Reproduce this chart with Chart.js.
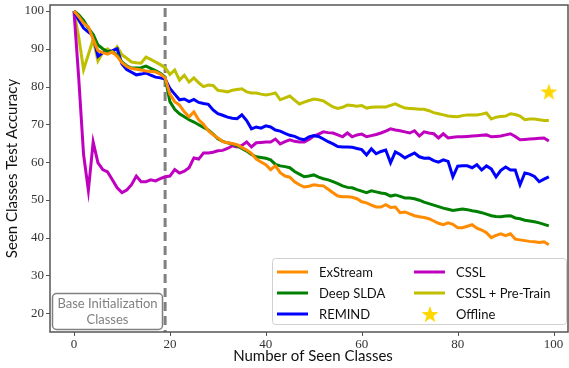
<!DOCTYPE html>
<html>
<head>
<meta charset="utf-8">
<script src="https://cdn.jsdelivr.net/npm/chart.js@4.4.1/dist/chart.umd.min.js"></script>
<style>
  html, body { margin: 0; padding: 0; background: #fff; }
  #wrap { width: 569px; height: 368px; }
</style>
</head>
<body>
<div id="wrap"><canvas id="accChart" width="569" height="368"></canvas></div>
<script>
// number of seen classes (x)
const classes = Array.from({length: 100}, (_, i) => i);

const exstream = [100, 98.5, 96.8, 95.8, 92.5, 89.5, 89, 88.6, 89.2, 88, 86.3, 85.3, 84.8, 84.6, 84.4, 84.1, 84, 83.9, 83.3, 82.3,
  78, 76, 75.1, 73.3, 72, 73.3, 71.2, 70, 68.3, 67.2, 66.4, 65.4, 65.1, 64.9, 64.6, 63.9, 63.2, 62.3, 60.8, 60,
  59.3, 58, 59, 57.2, 56.3, 56, 54.8, 54, 53.4, 53.6, 54, 53.8, 53.7, 52.8, 51.9, 51, 50.8, 50.8, 50.7, 50.3,
  49.5, 49.2, 48.6, 48.1, 48.1, 48.7, 48, 48.1, 46.6, 46.8, 46.3, 45.8, 45.5, 45.3, 45, 44.4, 43.8, 43.4, 43.9, 43.5,
  42.6, 42.6, 43, 43.4, 42.5, 42, 41.3, 40, 40.6, 41, 40.5, 41, 39.6, 39.4, 39.2, 39, 38.9, 38.7, 38.9, 38.1];

const deepSlda = [100, 99, 97.5, 95.5, 93.8, 91, 90, 89.3, 89.2, 88.4, 86.5, 85.5, 84.9, 84.9, 85, 85.4, 84.8, 84.2, 83.5, 82.5,
  76, 74, 72.8, 72, 71.2, 70.6, 69.9, 69.2, 68.5, 67.4, 66.2, 65.5, 65.1, 64.8, 64.3, 63.6, 62.9, 62, 61.4, 61.2,
  61, 60.6, 59.4, 59, 58.8, 58.5, 57.5, 56.8, 56.1, 56.3, 56.6, 56, 55.6, 55.3, 54.8, 54.3, 53.7, 53.3, 53.2, 52.7,
  52.3, 51.9, 52.4, 52.1, 51.8, 51.6, 51, 51.3, 50.9, 50.5, 50.5, 50.3, 49.9, 49.4, 49, 48.6, 48.2, 47.8, 47.5, 47.2,
  47.4, 47.6, 47.4, 47.1, 46.9, 46.6, 46.2, 45.8, 45.6, 45.5, 45.7, 45.8, 45.2, 45, 44.6, 44.4, 44.2, 43.9, 43.5, 43.1];

const remind = [100, 97.6, 95.5, 94.4, 93.5, 88, 89, 89.2, 89.5, 90, 86, 84.5, 83.8, 83.1, 83.3, 83.6, 83, 82.5, 82.3, 82,
  79.5, 78, 76.5, 76.7, 76, 76.6, 75.8, 75.5, 75.3, 73.8, 72.8, 72.4, 71.9, 71.6, 71.5, 72.5, 71, 68.8, 69.3, 69,
  69.6, 69.3, 68.5, 68.2, 67.6, 67.1, 66.8, 66.2, 65.9, 66.7, 67, 66.8, 66.1, 65.4, 64.8, 64.1, 64, 64, 63.9, 63.6,
  63.3, 61.9, 63.5, 62.2, 62.8, 63.2, 59.8, 62.7, 62, 61.1, 61.8, 62.4, 61.4, 61, 61.1, 60.4, 60, 60.6, 60.2, 56.1,
  58.9, 59, 59, 58.5, 59.3, 57.9, 59, 58.2, 56.1, 57.8, 58.7, 57.9, 57.9, 54, 57.1, 56.8, 56.2, 54.8, 55.5, 56.1];

const cssl = [100, 82, 62, 52.5, 65.3, 59.8, 58, 57.4, 55.3, 53.2, 51.9, 52.6, 54, 56.3, 54.8, 54.8, 55.3, 55, 55.6, 56.1,
  56.3, 58, 57.1, 57.6, 58.5, 61.1, 60.8, 62.4, 62.4, 62.6, 63, 63.1, 63.6, 64.3, 64, 64.4, 65.3, 64, 65.1, 65.2,
  65.3, 65.3, 66.1, 64.8, 65.4, 65.9, 65.5, 65.3, 65.3, 66, 66.9, 67.4, 68, 67.8, 67.7, 67.2, 66.7, 67.7, 66.7, 67.2,
  67.4, 66.7, 67, 67.3, 67.7, 68.2, 68.8, 68.5, 68.3, 68, 67.7, 68.3, 66.9, 68, 67.7, 67.5, 66.4, 67.5, 66.4, 66.6,
  66.7, 66.7, 66.8, 66.9, 67, 67.1, 67.2, 66.7, 66.8, 66.9, 67.2, 67.5, 66.8, 65.9, 66, 66.1, 66.2, 66.3, 66.4, 65.6];

const csslPretrain = [100, 93, 84.5, 88.5, 92.5, 86.8, 89, 90, 89, 90.5, 88.4, 87.5, 86.5, 86.3, 86.2, 87.8, 87.2, 86.5, 85.8, 85,
  83.2, 84.4, 81.7, 83, 81.2, 82.3, 81, 80, 80.4, 80.3, 79, 78.8, 78.6, 79, 79.2, 79.4, 78.6, 78.3, 78.3, 78,
  77.8, 78, 78.3, 76.5, 77, 77.5, 76.4, 75.4, 75.9, 76.3, 76.7, 76.5, 76.2, 75.4, 74.6, 74.2, 74.5, 75.1, 75, 74.8,
  75, 74.3, 74.5, 74.6, 74.6, 74.6, 75, 75.4, 74.8, 74.3, 74.2, 74.1, 74, 74, 73.6, 73.1, 72.8, 72.5, 72.2, 72.1,
  72, 72.3, 72.5, 72.5, 72.5, 72.7, 73, 71.4, 71.9, 72.1, 72.2, 72.8, 72.6, 72.2, 71.2, 71.4, 71.4, 71.2, 71, 71];

const offlineX = [99];
const offlineY = [78.7];

const baseClasses = 19;
const yTicks = [20, 30, 40, 50, 60, 70, 80, 90, 100];
const xTicks = [0, 20, 40, 60, 80, 100];

const serif = "'Liberation Serif', 'DejaVu Serif', serif";
const sans = "Lato, 'Noto Sans', sans-serif";

// filled star for the offline point
function starPath(g, cx, cy, r) {
  g.beginPath();
  for (let i = 0; i < 10; i++) {
    const rad = i % 2 === 0 ? r : r * 0.4;
    const a = -Math.PI / 2 + i * Math.PI / 5;
    const px = cx + rad * Math.cos(a), py = cy + rad * Math.sin(a);
    if (i === 0) g.moveTo(px, py); else g.lineTo(px, py);
  }
  g.closePath();
}
function makeStar(r, color) {
  const c = document.createElement('canvas');
  c.width = c.height = Math.ceil(r * 2 + 2);
  const g = c.getContext('2d');
  starPath(g, c.width / 2, c.height / 2 + r * 0.1, r);
  g.fillStyle = color;
  g.fill();
  return c;
}
const starImg = makeStar(9, '#ffd700');

function pts(vals) {
  return classes.map((c, i) => ({x: c, y: vals[i]}));
}

function lineSet(label, vals, color) {
  return {
    label: label, data: pts(vals), borderColor: color, backgroundColor: color,
    borderWidth: 3, pointRadius: 0, tension: 0, fill: false
  };
}

const datasets = [
  lineSet('ExStream', exstream, '#ff8c00'),
  lineSet('Deep SLDA', deepSlda, '#008000'),
  lineSet('REMIND', remind, '#0000ff'),
  lineSet('CSSL', cssl, '#bf00bf'),
  lineSet('CSSL + Pre-Train', csslPretrain, '#bfbf00'),
  {
    label: 'Offline', data: offlineX.map((x, i) => ({x: x, y: offlineY[i]})),
    showLine: false, pointStyle: starImg, pointRadius: 9, borderColor: '#ffd700', backgroundColor: '#ffd700'
  }
];

// dashed base-init line, axes, titles, note box and legend
const extras = {
  id: 'extras',
  beforeDatasetsDraw(chart) {
    const ctx = chart.ctx, a = chart.chartArea;
    const xs = chart.scales.x.getPixelForValue(baseClasses);
    ctx.save();
    ctx.strokeStyle = '#808080';
    ctx.lineWidth = 3;
    ctx.setLineDash([9, 5]);
    ctx.beginPath();
    ctx.moveTo(xs, a.top + 3);
    ctx.lineTo(xs, a.bottom);
    ctx.stroke();
    ctx.restore();
  },
  afterDraw(chart) {
    const ctx = chart.ctx, a = chart.chartArea;
    const sx = chart.scales.x, sy = chart.scales.y;
    ctx.save();
    // frame + tick marks
    ctx.strokeStyle = '#555';
    ctx.lineWidth = 1.5;
    ctx.strokeRect(a.left, a.top, a.right - a.left, a.bottom - a.top);
    ctx.lineWidth = 1;
    ctx.beginPath();
    yTicks.forEach(v => {
      const y = Math.round(sy.getPixelForValue(v)) + 0.5;
      ctx.moveTo(a.left - 4, y); ctx.lineTo(a.left, y);
    });
    xTicks.forEach(v => {
      const x = Math.round(sx.getPixelForValue(v)) + 0.5;
      ctx.moveTo(x, a.bottom); ctx.lineTo(x, a.bottom + 4);
    });
    ctx.stroke();

    // tick labels
    ctx.fillStyle = '#333';
    ctx.font = '13px ' + serif;
    ctx.textAlign = 'right';
    ctx.textBaseline = 'middle';
    yTicks.forEach(v => ctx.fillText(String(v), a.left - 6, sy.getPixelForValue(v)));
    ctx.textAlign = 'center';
    ctx.textBaseline = 'top';
    xTicks.forEach(v => ctx.fillText(String(v), sx.getPixelForValue(v), a.bottom + 6));

    // axis titles
    ctx.fillStyle = '#111';
    ctx.font = '15px ' + sans;
    ctx.textBaseline = 'middle';
    ctx.fillText('Number of Seen Classes', (a.left + a.right) / 2 + 4, 356);
    ctx.save();
    ctx.translate(12, (a.top + a.bottom) / 2);
    ctx.rotate(-Math.PI / 2);
    ctx.fillText('Seen Classes Test Accuracy', 0, 0);
    ctx.restore();

    // base init note
    ctx.strokeStyle = '#808080';
    ctx.lineWidth = 1.5;
    ctx.beginPath();
    ctx.roundRect(52.5, 293.5, 110, 36, 4);
    ctx.fillStyle = '#fff';
    ctx.fill();
    ctx.stroke();
    ctx.fillStyle = '#808080';
    ctx.font = '13px ' + sans;
    ctx.textAlign = 'center';
    ctx.textBaseline = 'middle';
    ctx.fillText('Base Initialization', 107.5, 304);
    ctx.fillText('Classes', 107.5, 320);

    // legend
    ctx.beginPath();
    ctx.roundRect(272.5, 258.5, 294, 66, 3);
    ctx.fillStyle = 'rgba(255,255,255,0.85)';
    ctx.fill();
    ctx.strokeStyle = '#d0d0d0';
    ctx.lineWidth = 1;
    ctx.stroke();
    ctx.font = '13px ' + sans;
    ctx.textAlign = 'left';
    chart.data.datasets.forEach((d, i) => {
      const col = Math.floor(i / 3), row = i % 3;
      const lx = col === 0 ? 277 : 414;
      const y = 272 + row * 21;
      if (d.showLine === false) {
        starPath(ctx, lx + 16, y + 1, 9);
        ctx.fillStyle = d.backgroundColor;
        ctx.fill();
      } else {
        ctx.strokeStyle = d.borderColor;
        ctx.lineWidth = 3;
        ctx.beginPath();
        ctx.moveTo(lx, y);
        ctx.lineTo(lx + 31, y);
        ctx.stroke();
      }
      ctx.fillStyle = '#111';
      ctx.fillText(d.label, lx + 42, y + 1);
    });
    ctx.restore();
  }
};

new Chart(document.getElementById('accChart'), {
  type: 'line',
  data: { datasets: datasets },
  plugins: [extras],
  options: {
    responsive: false,
    animation: false,
    layout: { autoPadding: false, padding: { top: 5, right: 1, left: 50, bottom: 36 } },
    plugins: { legend: { display: false }, tooltip: { enabled: false } },
    scales: {
      x: {
        type: 'linear', min: -5, max: 103,
        afterBuildTicks: s => { s.ticks = xTicks.map(v => ({value: v})); },
        afterFit: s => { s.height = 0; },
        grid: { display: false },
        border: { display: false },
        ticks: { display: false }
      },
      y: {
        min: 15, max: 101.6,
        afterBuildTicks: s => { s.ticks = yTicks.map(v => ({value: v})); },
        afterFit: s => { s.width = 0; },
        grid: { display: false },
        border: { display: false },
        ticks: { display: false }
      }
    }
  }
});
</script>
</body>
</html>
